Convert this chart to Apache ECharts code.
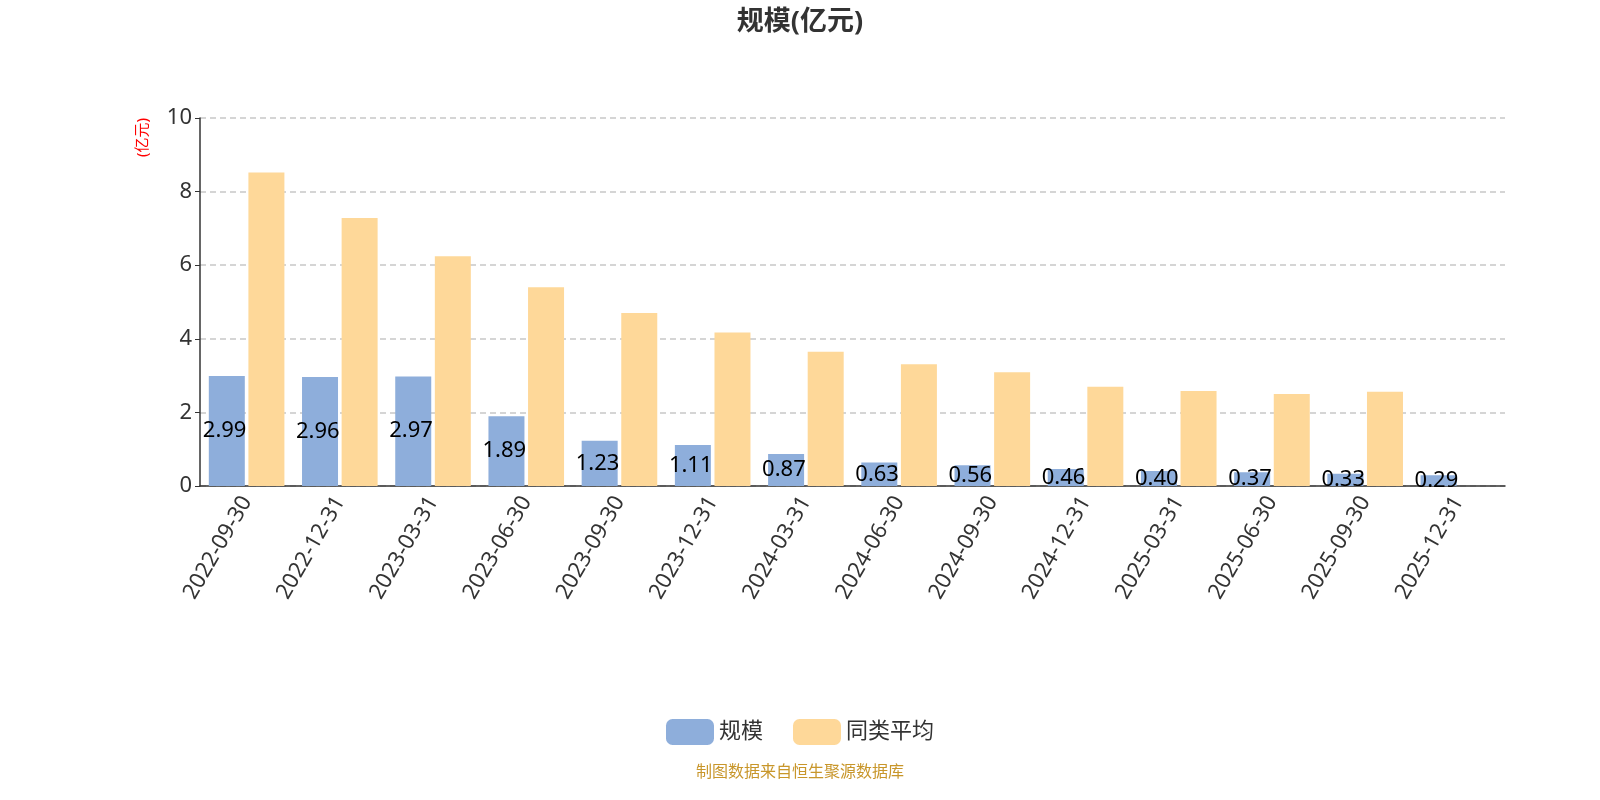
<!DOCTYPE html>
<html style="height: 100%">
<head>
    <meta charset="utf-8">
    <title>规模</title>
    <script src="https://cdn.jsdelivr.net/npm/echarts/dist/echarts.min.js"></script>
</head>
<body style="height: 100%; margin: 0">
    <div id="main" style="width: 1600px; height: 800px"></div>
    <script type="text/javascript">
        var dates = ['2022-09-30', '2022-12-31', '2023-03-31', '2023-06-30', '2023-09-30', '2023-12-31',
            '2024-03-31', '2024-06-30', '2024-09-30', '2024-12-31', '2025-03-31', '2025-06-30',
            '2025-09-30', '2025-12-31'];
        var scale = [2.991, 2.961, 2.978, 1.898, 1.232, 1.114, 0.872, 0.637, 0.564, 0.46, 0.405, 0.372, 0.331, 0.29];
        var peerAvg = [8.52, 7.28, 6.24, 5.4, 4.7, 4.17, 3.65, 3.31, 3.09, 2.7, 2.58, 2.5, 2.56, null];

        var myChart = echarts.init(document.getElementById('main'));
        var font = '"Noto Sans", "Noto Sans CJK SC", sans-serif';

        var option = {
            textStyle: { fontFamily: font },
            title: {
                text: '规模(亿元)', left: 'center', top: 4,
                textStyle: { fontSize: 27, fontWeight: 'bold', color: '#333', fontFamily: font }
            },
            legend: {
                bottom: 50, itemWidth: 48, itemHeight: 26, itemGap: 30,
                textStyle: { fontSize: 22, color: '#333' },
                data: ['规模', '同类平均']
            },
            graphic: [{
                type: 'text', left: 'center', top: 764,
                style: { text: '制图数据来自恒生聚源数据库', fill: '#c8962a', font: '16px ' + font }
            }],
            grid: { left: 200, right: 95, top: 118, bottom: 314 },
            xAxis: {
                type: 'category', data: dates,
                axisTick: { lineStyle: { color: '#333' } },
                axisLine: { lineStyle: { color: '#333', width: 1.5 } },
                axisLabel: { rotate: 60, fontSize: 22, color: '#333', margin: 12 }
            },
            yAxis: {
                type: 'value', min: 0, max: 10, interval: 2,
                name: '(亿元)', nameLocation: 'end', nameRotate: 90, nameGap: 0,
                nameTextStyle: { color: 'red', fontSize: 15, align: 'right', verticalAlign: 'bottom', padding: [0, 0, 50, 0] },
                axisLine: { show: true, lineStyle: { color: '#333', width: 1.5 } },
                axisTick: { show: true },
                axisLabel: { fontSize: 22, color: '#333' },
                splitLine: { lineStyle: { type: [6, 4], color: '#c8c8c8', width: 1.5 } }
            },
            series: [{
                name: '规模', type: 'bar', data: scale, barWidth: 36, barGap: '10%',
                itemStyle: { color: '#8eaedb' },
                label: {
                    show: true, position: 'inside', color: '#000', fontSize: 22,
                    formatter: function (p) { return String(p.value); },
                    width: 50, overflow: 'truncate', ellipsis: '', align: 'left', offset: [-24, 0]
                }
            }, {
                name: '同类平均', type: 'bar', data: peerAvg, barWidth: 36,
                itemStyle: { color: '#fed899' }
            }]
        };

        myChart.setOption(option);
    </script>
</body>
</html>
